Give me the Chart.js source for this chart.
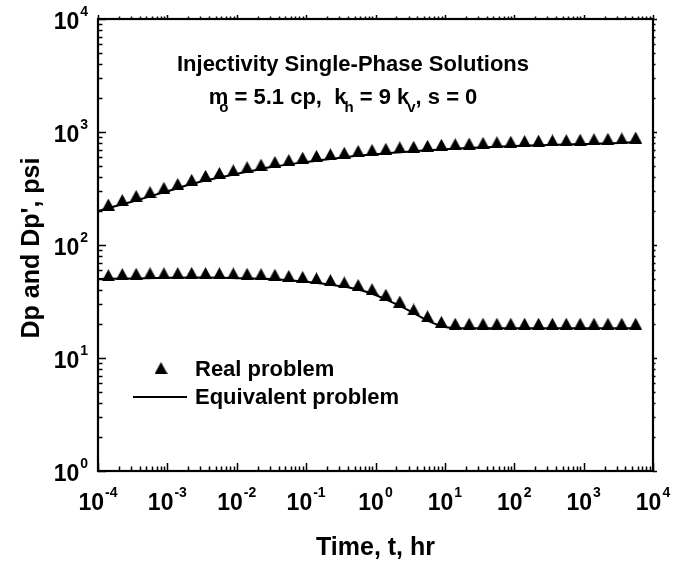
<!DOCTYPE html>
<html><head><meta charset="utf-8">
<script src="https://cdn.jsdelivr.net/npm/chart.js@4/dist/chart.umd.min.js"></script>
<style>html,body{margin:0;padding:0;background:#fff;}#wrap{width:675px;height:565px;}</style>
</head><body><div id="wrap"><canvas id="c" width="675" height="565"></canvas></div>
<script>
// ---- data ----
const tHours = [1.41e-4, 2.24e-4, 3.55e-4, 5.62e-4, 8.91e-4, 1.41e-3, 2.24e-3, 3.55e-3, 5.62e-3, 8.91e-3,
  0.0141, 0.0224, 0.0355, 0.0562, 0.0891, 0.141, 0.224, 0.355, 0.562, 0.891,
  1.41, 2.24, 3.55, 5.62, 8.91, 14.1, 22.4, 35.5, 56.2, 89.1,
  141, 224, 355, 562, 891, 1410, 2240, 3550, 5620];
const realDp = [228, 250, 272, 294, 321, 347, 377, 410, 434, 458,
  488, 514, 543, 565, 593, 614, 634, 656, 679, 693,
  710, 731, 741, 755, 771, 780, 791, 802, 811, 820,
  832, 838, 843, 847, 855, 863, 871, 877, 893];
const realDpDeriv = [54.0, 55.3, 55.6, 56.2, 56.2, 56.4, 56.6, 56.4, 56.2, 56.0,
  55.6, 55.2, 54.5, 53.3, 52.2, 50.7, 48.9, 46.6, 44.3, 40.6,
  36.3, 31.6, 26.9, 23.4, 20.9, 20.1, 20.1, 20.1, 20.1, 20.1,
  20.1, 20.1, 20.1, 20.1, 20.1, 20.1, 20.1, 20.1, 20.1];
const eqTimes = [1e-4, 3.16e-4, 1e-3, 3.16e-3, 0.01, 0.0316, 0.1, 0.316, 0.562, 1, 1.78, 3.16, 5.62, 10, 17.8, 31.6, 100, 316, 1000, 3160, 6300];
const eqDp = [200, 243, 299, 366, 425, 490, 543, 593, 617, 637, 655, 673, 689, 705, 718, 729, 752, 767, 782, 798, 817];
const eqDpDeriv = [50, 50.6, 51.3, 51.5, 50.9, 49.9, 47.3, 43.2, 40.4, 36.1, 30.9, 26.0, 21.4, 18.8, 18.3, 18.3, 18.3, 18.3, 18.3, 18.3, 18.3];
const xTickExps = [-4, -3, -2, -1, 0, 1, 2, 3, 4];
const yTickExps = [0, 1, 2, 3, 4];
const seriesNames = ['Real problem', 'Equivalent problem'];
const xTitle = 'Time, t, hr';
const yTitle = "Dp and Dp', psi";
const titleLine1 = 'Injectivity Single-Phase Solutions';

const FONT = '"Liberation Sans", Arial, sans-serif';

function makeTri(w, h) {
  const c = document.createElement('canvas');
  c.width = w; c.height = h;
  const g = c.getContext('2d');
  g.fillStyle = '#000';
  g.beginPath(); g.moveTo(w / 2, 0); g.lineTo(w, h); g.lineTo(0, h); g.closePath(); g.fill();
  return c;
}
const tri = makeTri(13, 12);

const pts = (xs, ys) => xs.map((x, i) => ({ x: x, y: ys[i] }));

function richWidth(ctx, parts) {
  let w = 0;
  for (const p of parts) { ctx.font = 'bold ' + p.size + 'px ' + FONT; w += (p.dx || 0) + ctx.measureText(p.t).width; }
  return w;
}
function drawRich(ctx, parts, cx, cy, align) {
  const w = richWidth(ctx, parts);
  let x = align === 'center' ? cx - w / 2 : (align === 'right' ? cx - w : cx);
  ctx.textBaseline = 'middle'; ctx.textAlign = 'left';
  for (const p of parts) {
    ctx.font = 'bold ' + p.size + 'px ' + FONT;
    x += (p.dx || 0);
    ctx.fillText(p.t, x, cy + (p.dy || 0));
    x += ctx.measureText(p.t).width;
  }
}

const decor = {
  id: 'decor',
  afterDatasetsDraw(chart) {
    const ctx = chart.ctx, a = chart.chartArea;
    const xs = chart.scales.x, ys = chart.scales.y;
    ctx.save();
    ctx.strokeStyle = '#000'; ctx.fillStyle = '#000';
    // ticks
    ctx.lineWidth = 1.5;
    ctx.beginPath();
    for (let e = -4; e <= 4; e++) {
      for (let m = 1; m <= 9; m++) {
        const v = m * Math.pow(10, e);
        if (v > 1e4 * 1.0001) break;
        const px = Math.round(xs.getPixelForValue(v)) + 0.5;
        const major = m === 1;
        ctx.moveTo(px, a.bottom); ctx.lineTo(px, a.bottom - (major ? 8 : 4.5));
        ctx.moveTo(px, a.top); ctx.lineTo(px, a.top - (major ? 4 : 2.5));
      }
    }
    for (let e = 0; e <= 4; e++) {
      for (let m = 1; m <= 9; m++) {
        const v = m * Math.pow(10, e);
        if (v > 1e4 * 1.0001) break;
        const py = Math.round(ys.getPixelForValue(v)) + 0.5;
        const major = m === 1;
        ctx.moveTo(a.left, py); ctx.lineTo(a.left + (major ? 8 : 4.5), py);
        ctx.moveTo(a.right, py); ctx.lineTo(a.right + (major ? 4 : 2.5), py);
      }
    }
    ctx.stroke();
    // frame
    ctx.lineWidth = 2.2;
    ctx.strokeRect(a.left, a.top, a.right - a.left, a.bottom - a.top);
    // tick labels
    for (const e of xTickExps) {
      const px = xs.getPixelForValue(Math.pow(10, e));
      drawRich(ctx, [{ t: '10', size: 23 }, { t: String(e), size: 14, dy: -11, dx: 1 }], px, a.bottom + 33, 'center');
    }
    for (const e of yTickExps) {
      const py = ys.getPixelForValue(Math.pow(10, e));
      drawRich(ctx, [{ t: '10', size: 23 }, { t: String(e), size: 14, dy: -11, dx: 1 }], a.left - 10, py + 4, 'right');
    }
    // axis titles
    ctx.font = 'bold 25px ' + FONT; ctx.textAlign = 'center'; ctx.textBaseline = 'middle';
    ctx.fillText(xTitle, (a.left + a.right) / 2, 548);
    ctx.save();
    ctx.translate(32, 248); ctx.rotate(-Math.PI / 2);
    ctx.fillText(yTitle, 0, 0);
    ctx.restore();
    // chart title
    ctx.font = 'bold 22px ' + FONT; ctx.textAlign = 'center';
    ctx.fillText(titleLine1, 353, 65);
    drawRich(ctx, [
      { t: 'm', size: 22 }, { t: 'o', size: 15, dy: 10, dx: -9 },
      { t: ' = 5.1 cp,  k', size: 22 }, { t: 'h', size: 15, dy: 10, dx: -2 },
      { t: ' = 9 k', size: 22 }, { t: 'v', size: 15, dy: 10, dx: -2 },
      { t: ', s = 0', size: 22 }
    ], 343, 98, 'center');
    // legend
    ctx.drawImage(tri, 161 - 6.5, 368 - 6);
    ctx.font = 'bold 22px ' + FONT; ctx.textAlign = 'left'; ctx.textBaseline = 'middle';
    ctx.fillText(seriesNames[0], 195, 370);
    ctx.lineWidth = 2; ctx.beginPath(); ctx.moveTo(133, 397); ctx.lineTo(187, 397); ctx.stroke();
    ctx.fillText(seriesNames[1], 195, 398);
    ctx.restore();
  }
};

new Chart(document.getElementById('c'), {
  type: 'line',
  data: {
    datasets: [
      { label: seriesNames[0] + ' Dp', data: pts(tHours, realDp), showLine: false, pointStyle: tri, pointRadius: 7, pointHoverRadius: 7, borderColor: '#000', backgroundColor: '#000' },
      { label: seriesNames[0] + " Dp'", data: pts(tHours, realDpDeriv), showLine: false, pointStyle: tri, pointRadius: 7, pointHoverRadius: 7, borderColor: '#000', backgroundColor: '#000' },
      { label: seriesNames[1] + ' Dp', data: pts(eqTimes, eqDp), borderColor: '#000', borderWidth: 2, pointRadius: 0, tension: 0.3, cubicInterpolationMode: 'monotone', fill: false },
      { label: seriesNames[1] + " Dp'", data: pts(eqTimes, eqDpDeriv), borderColor: '#000', borderWidth: 2, pointRadius: 0, tension: 0.3, cubicInterpolationMode: 'monotone', fill: false }
    ]
  },
  options: {
    responsive: false, animation: false, devicePixelRatio: 1,
    layout: { padding: { left: 98, right: 22, top: 19, bottom: 94 } },
    plugins: { legend: { display: false }, tooltip: { enabled: false }, title: { display: false } },
    scales: {
      x: { type: 'logarithmic', min: 1e-4, max: 1e4, display: false },
      y: { type: 'logarithmic', min: 1, max: 1e4, display: false }
    }
  },
  plugins: [decor]
});
</script>
</body></html>
